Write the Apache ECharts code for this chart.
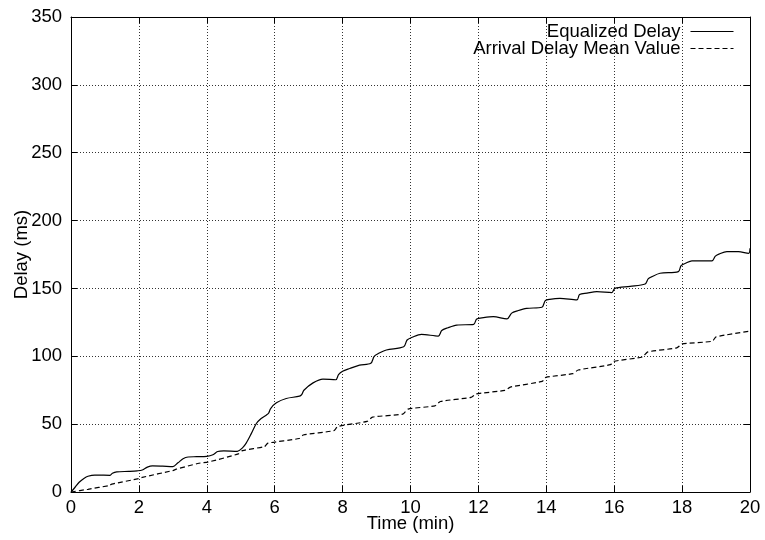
<!DOCTYPE html>
<html>
<head>
<meta charset="utf-8">
<script src="https://cdn.jsdelivr.net/npm/echarts@6/dist/echarts.min.js"></script>
<style>
  html, body { margin: 0; padding: 0; background: #fff; }
  #chart { width: 765px; height: 540px; }
</style>
</head>
<body>
<div id="chart"></div>
<script>
// Equalized delay (solid) vs. time in minutes
var eqTime = [0, 0.12, 0.24, 0.38, 0.5, 0.7, 0.9, 1.15, 1.22, 1.35, 1.7, 1.95, 2.1, 2.25, 2.4, 2.7, 3.0, 3.15, 3.3, 3.45, 3.7, 4.0, 4.18, 4.32, 4.5, 4.9, 5.05, 5.16, 5.31, 5.46, 5.6, 5.75, 5.82, 5.88, 6.05, 6.34, 6.73, 6.8, 6.86, 7.13, 7.42, 7.8, 7.88, 8.0, 8.21, 8.5, 8.83, 8.93, 9.05, 9.29, 9.8, 9.9, 10.05, 10.32, 10.82, 10.92, 11.1, 11.36, 11.86, 11.95, 12.15, 12.44, 12.84, 12.98, 13.15, 13.42, 13.87, 13.97, 14.1, 14.4, 14.9, 14.98, 15.2, 15.49, 15.93, 16.02, 16.47, 16.91, 17.0, 17.1, 17.35, 17.89, 17.97, 18.1, 18.29, 18.88, 18.98, 19.1, 19.32, 19.66, 19.96, 20];
var eqDelay = [0, 3.5, 7.2, 10, 11.6, 12.5, 12.4, 12.3, 13.8, 14.8, 15.2, 15.6, 16.2, 18.3, 19.2, 19, 18.7, 21.5, 24.5, 25.8, 26, 26.3, 27.5, 29.8, 30.3, 30, 32.5, 36, 43, 50.5, 54.2, 56.6, 58, 61.5, 65.7, 68.9, 70.6, 72, 75, 80.4, 83.2, 82.7, 86.5, 89, 91, 93.5, 94.8, 100, 102, 104.6, 107, 112, 114, 116.2, 114.9, 119, 121, 123, 123.5, 127.5, 128.5, 129.2, 127.5, 131.8, 133.5, 135.3, 136.1, 141, 142, 142.7, 141.5, 145.5, 146.5, 147.6, 146.9, 150, 151.5, 153.3, 157, 158.5, 161.2, 162.4, 166.8, 168.5, 170.3, 170.3, 173.8, 175.5, 177.1, 177.1, 175.9, 179.6];

// Arrival delay mean value (dashed)
var arTime = [0, 0.5, 1.13, 1.2, 2.0, 2.1, 3.0, 3.1, 3.77, 4.03, 4.93, 5.05, 5.7, 5.8, 6.72, 6.84, 7.74, 7.86, 8.72, 8.88, 9.77, 9.93, 10.72, 10.88, 11.78, 11.93, 12.78, 12.94, 13.88, 13.99, 14.78, 14.94, 15.89, 15.99, 16.83, 16.99, 17.84, 18.0, 18.89, 19.0, 20];
var arDelay = [0, 2, 4.8, 5.8, 9.9, 10.8, 15.8, 16.8, 21.2, 22, 28.1, 30.5, 33.5, 36, 39.4, 42, 45.2, 48.3, 52, 55.2, 57.4, 61.1, 63.5, 66.7, 69.7, 72.2, 74.9, 77.3, 81.5, 84.5, 87.2, 89.9, 93.8, 96.3, 99.5, 103.2, 106.2, 109.1, 111.1, 114.3, 118.5];

var seriesNames = ['Equalized Delay', 'Arrival Delay Mean Value'];
var xTitle = 'Time (min)';
var yTitle = 'Delay (ms)';

function zip(xs, ys) {
  return xs.map(function (x, i) { return [x, ys[i]]; });
}

var FONT = 'Liberation Sans, Arial, Helvetica, sans-serif';
var FS = 18.5;
var gridLine = { show: true, lineStyle: { color: '#333', type: [1, 2], width: 1 } };
var boxLine = { show: true, onZero: false, lineStyle: { color: '#000', width: 1 } };
var innerTick = { show: true, inside: true, length: 6, lineStyle: { color: '#000' } };
var clear = 'rgba(0,0,0,0)';

var chart = echarts.init(document.getElementById('chart'), null, { renderer: 'canvas' });
chart.setOption({
  animation: false,
  backgroundColor: '#fff',
  textStyle: { fontFamily: FONT },
  grid: { left: 71, right: 15, top: 17, bottom: 48, containLabel: false, outerBoundsMode: 'none' },
  legend: {
    orient: 'vertical',
    left: 'auto',
    right: 31,
    top: 22,
    bottom: 'auto',
    height: 60,
    align: 'right',
    padding: 0,
    itemWidth: 43,
    itemHeight: 12,
    itemGap: -2,
    data: seriesNames,
    itemStyle: { color: clear, borderColor: clear, borderWidth: 0 },
    lineStyle: { width: 1 },
    textStyle: { fontSize: FS, lineHeight: 14, color: '#000', fontFamily: FONT, padding: [0, 5, 0, 0] }
  },
  xAxis: [{
    type: 'value', min: 0, max: 20, interval: 2,
    position: 'bottom',
    name: xTitle, nameLocation: 'middle', nameGap: 22, nameMoveOverlap: false,
    nameTextStyle: { fontSize: FS, color: '#000', fontFamily: FONT },
    axisLine: boxLine, axisTick: innerTick,
    axisLabel: { fontSize: FS, color: '#000', margin: 6, fontFamily: FONT },
    splitLine: gridLine
  }, {
    type: 'value', min: 0, max: 20, interval: 2,
    position: 'top',
    axisLine: boxLine, axisTick: innerTick,
    axisLabel: { show: false }, splitLine: { show: false }
  }],
  yAxis: [{
    type: 'value', min: 0, max: 350, interval: 50,
    position: 'left',
    name: yTitle, nameLocation: 'middle', nameGap: 40, nameRotate: 90, nameMoveOverlap: false,
    nameTextStyle: { fontSize: FS, color: '#000', fontFamily: FONT },
    axisLine: boxLine, axisTick: innerTick,
    axisLabel: { fontSize: FS, color: '#000', margin: 9, fontFamily: FONT },
    splitLine: gridLine
  }, {
    type: 'value', min: 0, max: 350, interval: 50,
    position: 'right',
    axisLine: boxLine, axisTick: innerTick,
    axisLabel: { show: false }, splitLine: { show: false }
  }],
  series: [{
    name: seriesNames[0],
    type: 'line',
    data: zip(eqTime, eqDelay),
    symbol: 'none',
    smooth: 0.3,
    lineStyle: { color: '#000', width: 1.2, type: 'solid' },
    itemStyle: { color: '#000' }
  }, {
    name: seriesNames[1],
    type: 'line',
    data: zip(arTime, arDelay),
    symbol: 'none',
    smooth: 0.2,
    lineStyle: { color: '#000', width: 1.2, type: [5, 3] },
    itemStyle: { color: '#000' }
  }]
});
</script>
</body>
</html>
